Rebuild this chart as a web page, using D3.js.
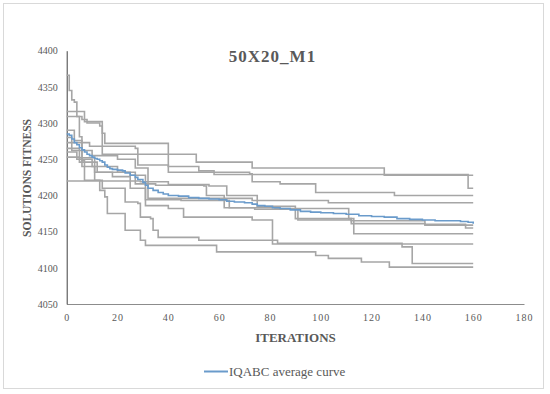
<!DOCTYPE html>
<html>
<head>
<meta charset="utf-8">
<script src="https://cdn.jsdelivr.net/npm/d3@7"></script>
<style>
  body { margin: 0; background: #fff; }
  text { font-family: "Liberation Serif", "DejaVu Serif", serif; fill: #595959; }
</style>
</head>
<body>
<div id="chart"></div>
<script>
// x ticks and y ticks
var xTicks = [0, 20, 40, 60, 80, 100, 120, 140, 160, 180]
var yTicks = [4050, 4100, 4150, 4200, 4250, 4300, 4350, 4400]

// individual runs, [iteration, fitness] at each improvement
var run1 = [[0,4366],[1,4345],[2,4332],[3,4329],[4,4309],[5,4281],[6,4248],[7,4221],[12,4221],[13,4207],[15,4198],[16,4175],[22,4175],[23,4152],[29,4138],[31,4131],[58,4131],[59,4122],[97,4122],[98,4117],[103,4113],[116,4108],[127,4101],[160,4101]]
var run2 = [[0,4316],[7,4302],[14,4286],[15,4272],[39,4272],[40,4232],[72,4230],[73,4219],[84,4216],[98,4204],[129,4200],[160,4200]]
var run3 = [[0,4309],[6,4305],[8,4300],[13,4296],[14,4257],[51,4246],[73,4238],[125,4228],[160,4228]]
var run4 = [[0,4273],[9,4268],[27,4265],[28,4242],[40,4240],[52,4234],[58,4229],[157,4229],[158,4210],[160,4210]]
var run5 = [[0,4290],[3,4276],[6,4262],[10,4255],[20,4250],[27,4238],[32,4196],[73,4193],[103,4190],[160,4190]]
var run6 = [[0,4280],[2,4262],[6,4240],[11,4221],[14,4210],[22,4210],[23,4191],[28,4189],[29,4170],[33,4168],[34,4152],[36,4142],[52,4138],[83,4134],[132,4129],[136,4106],[160,4106]]
var run7 = [[0,4265],[5,4252],[11,4232],[18,4226],[25,4210],[31,4186],[40,4182],[46,4170],[73,4166],[80,4166],[81,4133],[160,4133]]
var run8 = [[0,4260],[4,4250],[10,4240],[20,4232],[27,4216],[35,4214],[54,4213],[55,4200],[62,4183],[74,4181],[91,4166],[112,4161],[141,4159],[160,4159]]
var run9 = [[0,4220],[29,4219],[40,4215],[56,4213],[63,4200],[75,4185],[90,4168],[112,4165],[141,4160],[157,4155],[160,4155]]
var run10 = [[0,4253],[5,4246],[12,4232],[25,4228],[31,4194],[45,4193],[64,4183],[82,4182],[111,4168],[113,4147],[160,4147]]

// IQABC average curve
var average = [[0,4285],[1,4283],[2,4278],[3,4273],[4,4270],[5,4266],[6,4263],[7,4260],[8,4257],[9,4255],[10,4253],[11,4251],[12,4250],[13,4248],[14,4246],[15,4242],[16,4239],[17,4237],[18,4236],[20,4235],[22,4234],[23,4231],[25,4228],[27,4225],[28,4222],[30,4218],[31,4214],[32,4210],[34,4207],[36,4204],[38,4202],[40,4200],[44,4199],[48,4197],[52,4196],[56,4195],[60,4194],[63,4192],[66,4191],[70,4190],[73,4188],[75,4186],[78,4185],[81,4183],[84,4182],[88,4180],[92,4178],[96,4177],[100,4176],[105,4175],[110,4174],[115,4172],[120,4171],[125,4170],[130,4168],[135,4167],[140,4166],[145,4165],[150,4165],[155,4164],[158,4163],[160,4161]]

var runs = [run1, run2, run3, run4, run5, run6, run7, run8, run9, run10]

var W = 550, H = 394

var svg = d3.select("#chart").append("svg")
            .attr("width", W)
            .attr("height", H)

// chart border
svg.append("rect")
   .attr("x", 3.5).attr("y", 3.5)
   .attr("width", 540).attr("height", 385)
   .attr("fill", "none")
   .attr("stroke", "#d9d9d9")

var x = d3.scaleLinear().domain([0, 180]).range([66.7, 524])
var y = d3.scaleLinear().domain([4050, 4400]).range([304, 50.7])

// axes
var xAxis = svg.append("g")
   .attr("transform", "translate(0," + y(4050) + ")")
   .call(d3.axisBottom(x).tickValues(xTicks).tickSize(0).tickPadding(10))
xAxis.select(".domain").attr("stroke", "#8c8c8c")
xAxis.selectAll("text")
     .style("font-size", "10px")
     .style("letter-spacing", "1px")
     .attr("fill", "#595959")
     .style("font-family", "Liberation Serif")

var yAxis = svg.append("g")
   .attr("transform", "translate(" + x(0) + ",0)")
   .call(d3.axisLeft(y).tickValues(yTicks).tickFormat(d3.format("d")).tickSize(0).tickPadding(9))
yAxis.select(".domain").attr("stroke", "#404040")
yAxis.selectAll("text")
     .style("font-size", "10px")
     .attr("fill", "#595959")
     .style("font-family", "Liberation Serif")

var line = d3.line()
             .x(d => x(d[0]))
             .y(d => y(d[1]))
             .curve(d3.curveStepAfter)

// grey runs
svg.append("g").selectAll("path")
   .data(runs)
   .join("path")
   .attr("d", line)
   .attr("fill", "none")
   .attr("stroke", "#a6a6a6")
   .attr("stroke-width", 1.6)

// average
svg.append("path")
   .datum(average)
   .attr("d", line)
   .attr("fill", "none")
   .attr("stroke", "#6a9bcb")
   .attr("stroke-width", 1.6)

// title
svg.append("text")
   .attr("x", 272.5).attr("y", 62)
   .attr("text-anchor", "middle")
   .style("font-size", "17px")
   .style("font-weight", "bold")
   .style("letter-spacing", "1px")
   .text("50X20_M1")

// axis titles
svg.append("text")
   .attr("x", 295.5).attr("y", 342)
   .attr("text-anchor", "middle")
   .style("font-size", "13px")
   .style("font-weight", "bold")
   .text("ITERATIONS")

svg.append("text")
   .attr("transform", "translate(31,178) rotate(-90)")
   .attr("text-anchor", "middle")
   .style("font-size", "11.5px")
   .style("font-weight", "bold")
   .text("SOLUTIONS FITNESS")

// legend
svg.append("line")
   .attr("x1", 204).attr("x2", 228)
   .attr("y1", 371.5).attr("y2", 371.5)
   .attr("stroke", "#6a9bcb")
   .attr("stroke-width", 2)

svg.append("text")
   .attr("x", 229).attr("y", 376)
   .style("font-size", "13px")
   .text("IQABC average curve")
</script>
</body>
</html>
